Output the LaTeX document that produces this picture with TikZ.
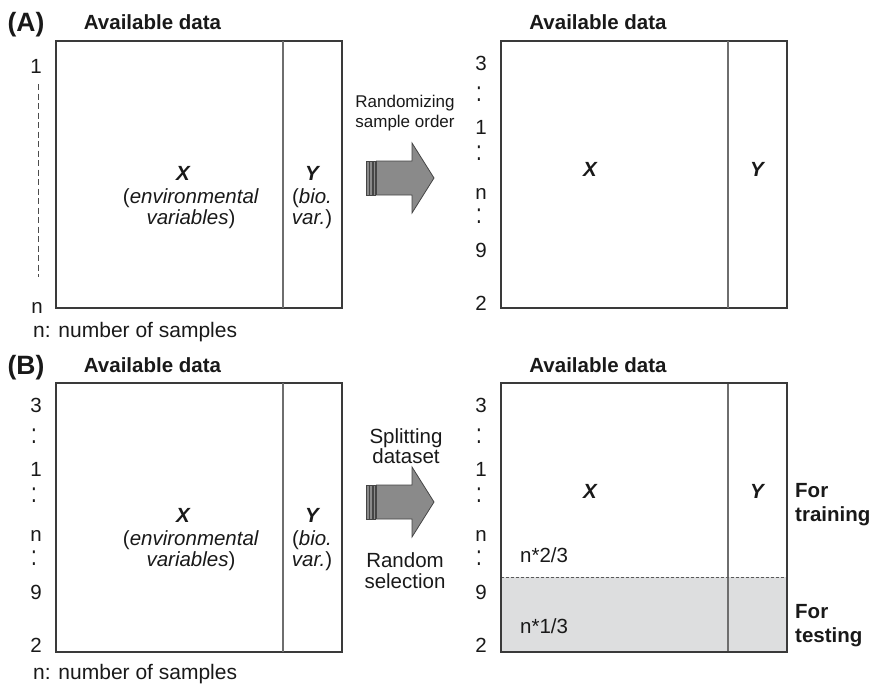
\documentclass[tikz,border=0pt]{standalone}
\usepackage{fontspec}
\setmainfont{Liberation Sans}
\definecolor{frame}{HTML}{3A3A3A}
\definecolor{divider}{HTML}{6E6E6E}
\definecolor{testfill}{HTML}{DDDEDF}
\definecolor{arrowfill}{HTML}{8A8A8A}
\definecolor{arrowline}{HTML}{454545}
\newcommand{\vcolon}{\scalebox{1}[1.35]{:}}
\begin{document}
\begin{tikzpicture}[x=1pt,y=-1pt,
  txt/.style={font=\fontsize{20.5}{24}\selectfont, anchor=base, inner sep=0pt, text=black!90},
  smalltxt/.style={font=\fontsize{17}{20}\selectfont, anchor=base, inner sep=0pt, text=black!90},
  boldtxt/.style={font=\bfseries\fontsize{20.5}{24}\selectfont, anchor=base, inner sep=0pt, text=black!90},
  vartxt/.style={font=\bfseries\itshape\fontsize{20.5}{24}\selectfont, anchor=base, inner sep=0pt, text=black!90},
  tagtxt/.style={font=\bfseries\fontsize{26.5}{30}\selectfont, anchor=base, inner sep=0pt, text=black!90},
  colontxt/.style={txt, text height=9pt, text depth=0pt},
  boxframe/.style={draw=frame, line width=1.2pt},
  divline/.style={draw=divider, line width=1.2pt},
  blockarrow/.style={fill=arrowfill, draw=arrowline, line width=0.8pt, line join=miter},
  tailbar/.style={fill=arrowfill, draw=arrowline, line width=0.6pt}
]
\useasboundingbox (0,0) rectangle (875,685);

% ---------- panel tags and headings ----------
\node[tagtxt] (tagA) at (26,32) {(A)};
\node[boldtxt] (headAL) at (152.5,30) {Available data};
\node[boldtxt] (headAR) at (598,30) {Available data};
\node[tagtxt] (tagB) at (26,374) {(B)};
\node[boldtxt] (headBL) at (152.5,372) {Available data};
\node[boldtxt] (headBR) at (598,372) {Available data};

% ---------- row-order labels ----------
% original order (panel A, left)
\node[txt] (a1) at (36,74) {1};
\node[txt] (an) at (37,313) {n};
\draw[draw=black!70, line width=0.8pt, dash pattern=on 6pt off 3.5pt] (38,84) -- (38,277);
\node[txt, anchor=base west, font=\fontsize{21}{24}\selectfont] (anote) at (33,337) {n: number of samples};

% shuffled order, reused for the three other tables
\newcommand{\shuffledlabels}[3]{%
  \node[txt] (#3l3) at (#1,#2+29.3) {3};
  \node[colontxt] (#3c1) at (#1-2,#2+60.3) {\vcolon};
  \node[txt] (#3l1) at (#1,#2+93.3) {1};
  \node[colontxt] (#3c2) at (#1-2,#2+119.8) {\vcolon};
  \node[txt] (#3ln) at (#1,#2+158) {n};
  \node[colontxt] (#3c3) at (#1-2,#2+182) {\vcolon};
  \node[txt] (#3l9) at (#1,#2+216.3) {9};
  \node[txt] (#3l2) at (#1,#2+269.3) {2};
}
\shuffledlabels{481}{41}{ar}
\shuffledlabels{36}{383}{bl}
\shuffledlabels{481}{383}{br}
\node[txt, anchor=base west, font=\fontsize{21}{24}\selectfont] (bnote) at (33,679) {n: number of samples};

% ---------- panel A tables ----------
\draw[boxframe] (56,41) rectangle (342,308);
\draw[divline] (283,41) -- (283,308);
\node[vartxt] (axl) at (183,180) {X};
\node[txt] (aenv1) at (191,203) {(\textit{environmental}};
\node[txt] (aenv2) at (191,224) {\textit{variables})};
\node[vartxt] (ayl) at (312,180) {Y};
\node[txt] (abio1) at (312,203) {(\textit{bio.}};
\node[txt] (abio2) at (312,224) {\textit{var.})};

\draw[boxframe] (501,41) rectangle (787,308);
\draw[divline] (728,41) -- (728,308);
\node[vartxt] (axr) at (590,176) {X};
\node[vartxt] (ayr) at (757,176) {Y};

% ---------- panel B tables ----------
\draw[boxframe] (56,383) rectangle (342,652);
\draw[divline] (283,383) -- (283,652);
\node[vartxt] (bxl) at (183,522) {X};
\node[txt] (benv1) at (191,545) {(\textit{environmental}};
\node[txt] (benv2) at (191,566) {\textit{variables})};
\node[vartxt] (byl) at (312,522) {Y};
\node[txt] (bbio1) at (312,545) {(\textit{bio.}};
\node[txt] (bbio2) at (312,566) {\textit{var.})};

\fill[testfill] (501,577) rectangle (787,652);
\draw[divline] (728,383) -- (728,652);
\draw[draw=black!65, line width=0.8pt, dash pattern=on 3pt off 2pt] (501,577) -- (787,577);
\draw[boxframe] (501,383) rectangle (787,652);
\draw[draw=frame, line width=2pt] (501,652) -- (787,652);
\node[vartxt] (bxr) at (590,498) {X};
\node[vartxt] (byr) at (757,498) {Y};
\node[txt, anchor=base west] (ntrain) at (520,562) {n*2/3};
\node[txt, anchor=base west] (ntest) at (520,633) {n*1/3};
\node[boldtxt, anchor=base west] (train1) at (795,497) {For};
\node[boldtxt, anchor=base west] (train2) at (795,521) {training};
\node[boldtxt, anchor=base west] (test1) at (795,618) {For};
\node[boldtxt, anchor=base west] (test2) at (795,642) {testing};

% ---------- block arrows (three thin tail strips, then the body and head) ----------
\newcommand{\blockarrowat}[1]{%
  \draw[tailbar] (366,#1-17) rectangle (368.8,#1+17);
  \draw[tailbar] (369.4,#1-17) rectangle (372.2,#1+17);
  \draw[tailbar] (372.8,#1-17) rectangle (375.6,#1+17);
  \draw[blockarrow] (376.4,#1-17) -- (412,#1-17) -- (412,#1-35) -- (434,#1)
     -- (412,#1+35) -- (412,#1+17) -- (376.4,#1+17) -- cycle;
}
\blockarrowat{178}
\node[smalltxt] (rand1) at (405,107) {Randomizing};
\node[smalltxt] (rand2) at (405,127) {sample order};

\blockarrowat{502}
\node[txt] (split1) at (406,443) {Splitting};
\node[txt] (split2) at (406,463) {dataset};
\node[txt] (sel1) at (405,567) {Random};
\node[txt] (sel2) at (405,588) {selection};
\end{tikzpicture}
\end{document}
